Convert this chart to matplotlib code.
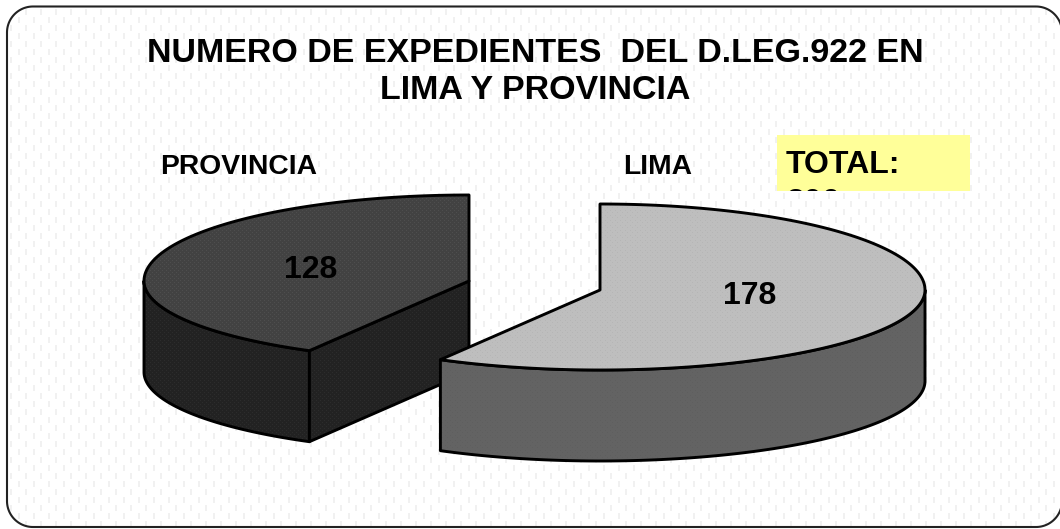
import numpy as np
import matplotlib
matplotlib.use('Agg')
import matplotlib.pyplot as plt
from matplotlib.patches import Polygon, Rectangle

plt.rcParams['font.family'] = ['Liberation Sans', 'DejaVu Sans']

title = "NUMERO DE EXPEDIENTES  DEL D.LEG.922 EN\nLIMA Y PROVINCIA"
categories = ['LIMA', 'PROVINCIA']
values = [178, 128]
total_label = 'TOTAL:'

W, H = 1060, 529

# pie geometry in pixels, back half of the ellipse is a bit taller (perspective)
RX, RY_BACK, RY_FRONT, DEPTH = 325, 86, 80, 91
CENTERS = {'LIMA': (600, 290), 'PROVINCIA': (469, 281)}
TOP_COLORS = {'LIMA': '#bebebe', 'PROVINCIA': '#424242'}
SIDE_COLORS = {'LIMA': '#636363', 'PROVINCIA': '#222222'}


def rim(center, a0, a1):
    # angles in degrees clockwise from 12 o'clock
    t = np.radians(np.linspace(a0, a1, 200))
    dy = -np.cos(t)
    ry = np.where(dy < 0, RY_BACK, RY_FRONT)
    return np.column_stack([center[0] + RX * np.sin(t), center[1] + ry * dy])


def rounded_rect(x0, y0, x1, y1, r):
    corners = [(x1 - r, y0 + r, -90), (x1 - r, y1 - r, 0), (x0 + r, y1 - r, 90), (x0 + r, y0 + r, 180)]
    pts = []
    for cx, cy, start in corners:
        t = np.radians(np.linspace(start, start + 90, 30))
        pts.append(np.column_stack([cx + r * np.cos(t), cy + r * np.sin(t)]))
    return np.vstack(pts)


def dash_tile():
    # faint staggered dashes of the slide background
    tile = np.ones((16, 15))
    tile[1:7, 3:5] = 0.945
    tile[9:15, 10:12] = 0.945
    return tile


def add_dots(ax, patch, color, alpha, step):
    layer = np.zeros((H, W, 4))
    layer[..., :3] = matplotlib.colors.to_rgb(color)
    layer[::step, ::step, 3] = alpha
    layer[step // 2::step, step // 2::step, 3] = alpha
    im = ax.imshow(layer, extent=[0, W, H, 0], interpolation='nearest', aspect='auto', zorder=patch.get_zorder())
    im.set_clip_path(patch)


def add_face(ax, pts, face, zorder, dot_color, dot_alpha=0.09, step=5):
    fill = Polygon(pts, closed=True, facecolor=face, edgecolor='none', zorder=zorder)
    ax.add_patch(fill)
    add_dots(ax, fill, dot_color, dot_alpha, step)
    line = Polygon(pts, closed=True, facecolor='none', edgecolor='black', linewidth=2.1,
                   joinstyle='round', zorder=zorder + 0.1)
    ax.add_patch(line)


fig = plt.figure(figsize=(W / 100, H / 100), dpi=100)
ax = fig.add_axes([0, 0, 1, 1])

frame_pts = rounded_rect(7, 6.5, 1062, 527, 26)
frame = Polygon(frame_pts, closed=True, facecolor='white', edgecolor='none', zorder=1)
ax.add_patch(frame)
rows = H // 16 + 1
cols = W // 15 + 1
bg = np.tile(dash_tile(), (rows, cols))[:H, :W]
bg_im = ax.imshow(bg, cmap='gray', vmin=0, vmax=1, extent=[0, W, H, 0], interpolation='bilinear',
                  aspect='auto', zorder=1.5)
bg_im.set_clip_path(frame)
ax.add_patch(Polygon(frame_pts, closed=True, facecolor='none', edgecolor='#222222', linewidth=1.5, zorder=1.6))

# slice angles come from the values, clockwise from the top
sweep = 360 * values[0] / sum(values)
down = np.array([0, DEPTH])

# PROVINCIA goes first, LIMA sits on top of it
cx = CENTERS['PROVINCIA']
outer = rim(cx, sweep, 270)
add_face(ax, np.vstack([outer, (outer + down)[::-1]]), SIDE_COLORS['PROVINCIA'], 2, 'white', 0.05, 4)
cut = np.array([outer[0], cx, np.array(cx) + down, outer[0] + down])
add_face(ax, cut, SIDE_COLORS['PROVINCIA'], 2.2, 'white', 0.05, 4)
add_face(ax, np.vstack([[cx], rim(cx, sweep, 360)]), TOP_COLORS['PROVINCIA'], 2.4, 'white', 0.07, 4)

cx = CENTERS['LIMA']
outer = rim(cx, 90, sweep)
add_face(ax, np.vstack([outer, (outer + down)[::-1]]), SIDE_COLORS['LIMA'], 3, 'black', 0.05, 5)
add_face(ax, np.vstack([[cx], rim(cx, 0, sweep)]), TOP_COLORS['LIMA'], 3.2, 'black', 0.05, 5)

ax.text(535, 72, title, ha='center', va='center', fontsize=24.5, fontweight='bold', linespacing=1.27, zorder=5)
ax.text(239, 167, categories[1], ha='center', va='center', fontsize=20.3, fontweight='bold', zorder=5)
ax.text(658, 167, categories[0], ha='center', va='center', fontsize=20.3, fontweight='bold', zorder=5)
ax.text(750, 296, str(values[0]), ha='center', va='center', fontsize=23, fontweight='bold', zorder=5)
ax.text(311, 270, str(values[1]), ha='center', va='center', fontsize=23, fontweight='bold', zorder=5)

# yellow note, the second line gets cut off by the box like in the original
note = Rectangle((777, 135), 193, 56, facecolor='#ffff99', edgecolor='none', zorder=4)
ax.add_patch(note)
note_txt = ax.text(786, 150, total_label + '\n' + str(sum(values)), ha='left', va='top', fontsize=23,
                   fontweight='bold', linespacing=1.35, zorder=5, clip_on=True)
note_txt.set_clip_path(note)

ax.set_xlim(0, W)
ax.set_ylim(H, 0)
ax.axis('off')

fig.savefig('out.png', dpi=100)
